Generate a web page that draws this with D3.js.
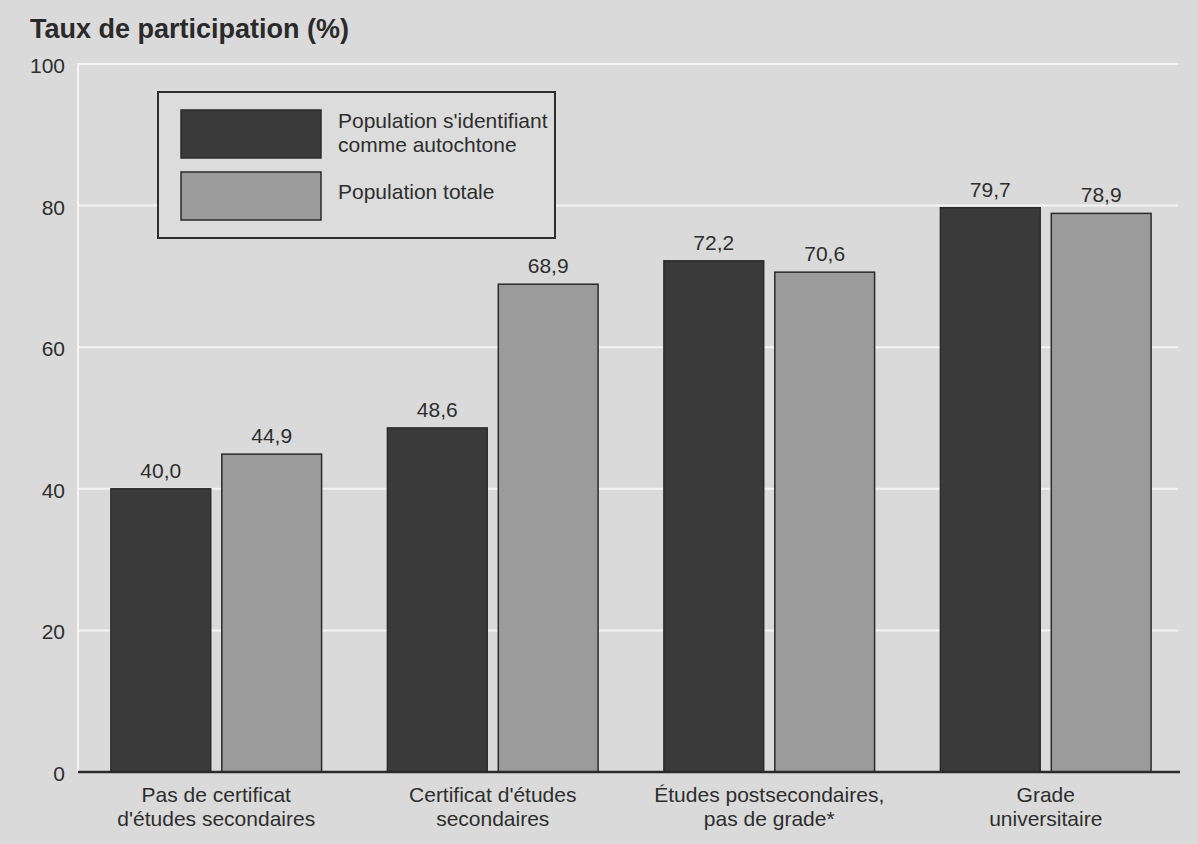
<!DOCTYPE html>
<html lang="fr">
<head>
<meta charset="utf-8">
<script src="https://cdn.jsdelivr.net/npm/d3@7"></script>
<style>
  html, body { margin: 0; padding: 0; background: #d9d9d9; }
  svg { display: block; font-family: "Liberation Sans", Arial, sans-serif; }
</style>
</head>
<body>
<svg id="chart" width="1198" height="844"></svg>
<script>
// Niveaux de scolarité (deux lignes par étiquette)
const categories = [
  ["Pas de certificat", "d'études secondaires"],
  ["Certificat d'études", "secondaires"],
  ["Études postsecondaires,", "pas de grade*"],
  ["Grade", "universitaire"]
];
const seriesNames = ["Population s'identifiant comme autochtone", "Population totale"];
const autochtone = [40.0, 48.6, 72.2, 79.7];
const totale = [44.9, 68.9, 70.6, 78.9];
const yTicks = [0, 20, 40, 60, 80, 100];

(function draw() {
  const colors = ["#3a3a3a", "#9b9b9b"];
  const textColor = "#2e2e2e";
  const fs = 21;
  const fmt = v => d3.format(".1f")(v).replace(".", ",");

  const svg = d3.select("#chart");
  const W = 1198, H = 844;
  svg.append("rect").attr("width", W).attr("height", H).attr("fill", "#dadada");

  const plot = { left: 78, right: 1184, top: 64, bottom: 772 };

  const y = d3.scaleLinear().domain([0, 100]).range([plot.bottom, plot.top]);
  const x0 = d3.scaleBand().domain(d3.range(categories.length))
    .range([plot.left, plot.right]).paddingInner(0.238).paddingOuter(0.119);
  const x1 = d3.scaleBand().domain([0, 1]).range([0, x0.bandwidth()]).paddingInner(0.1);

  // Quadrillage blanc
  const grid = svg.append("g");
  grid.selectAll("line.h").data(yTicks.filter(t => t > 0)).join("line")
    .attr("x1", plot.left).attr("x2", 1178)
    .attr("y1", d => y(d)).attr("y2", d => y(d))
    .attr("stroke", "#f4f4f4").attr("stroke-width", 2);
  grid.append("line").attr("x1", plot.left).attr("x2", plot.left)
    .attr("y1", plot.top - 1).attr("y2", plot.bottom)
    .attr("stroke", "#f4f4f4").attr("stroke-width", 2);

  // Axe vertical (étiquettes seulement)
  const yAxis = d3.axisLeft(y).tickValues(yTicks).tickSize(0).tickPadding(13);
  const gy = svg.append("g").attr("transform", `translate(${plot.left},0)`).call(yAxis);
  gy.select(".domain").remove();
  gy.selectAll("text").attr("font-size", fs).attr("fill", textColor)
    .attr("font-family", "'Liberation Sans', Arial, sans-serif")
    .attr("dy", "0.4em");

  // Titre de l'axe
  svg.append("text").attr("x", 30).attr("y", 38)
    .attr("font-size", 27).attr("font-weight", "bold").attr("fill", "#2a2a2a")
    .text("Taux de participation (%)");

  // Barres
  const rows = categories.map((c, i) => ({ i, values: [autochtone[i], totale[i]] }));
  const groups = svg.append("g").selectAll("g").data(rows).join("g")
    .attr("transform", d => `translate(${x0(d.i)},0)`);

  groups.selectAll("rect").data(d => d.values.map((v, s) => ({ v, s }))).join("rect")
    .attr("x", d => x1(d.s)).attr("width", x1.bandwidth())
    .attr("y", d => y(d.v)).attr("height", d => y(0) - y(d.v))
    .attr("fill", d => colors[d.s]).attr("stroke", "#2b2b2b").attr("stroke-width", 1.5);

  groups.selectAll("text.val").data(d => d.values.map((v, s) => ({ v, s }))).join("text")
    .attr("class", "val")
    .attr("x", d => x1(d.s) + x1.bandwidth() / 2)
    .attr("y", d => y(d.v) - 11)
    .attr("text-anchor", "middle").attr("font-size", fs).attr("fill", textColor)
    .text(d => fmt(d.v));

  // Ligne de base
  svg.append("line").attr("x1", plot.left).attr("x2", 1180)
    .attr("y1", y(0)).attr("y2", y(0))
    .attr("stroke", "#2a2a2a").attr("stroke-width", 2.5);

  // Étiquettes des catégories
  const xl = svg.append("g").selectAll("text").data(categories).join("text")
    .attr("x", (d, i) => x0(i) + x0.bandwidth() / 2)
    .attr("y", 802)
    .attr("text-anchor", "middle").attr("font-size", fs).attr("fill", textColor);
  xl.selectAll("tspan").data(d => d).join("tspan")
    .attr("x", function () { return d3.select(this.parentNode).attr("x"); })
    .attr("dy", (d, k) => k === 0 ? 0 : 24)
    .text(d => d);

  // Légende
  const lg = svg.append("g");
  lg.append("rect").attr("x", 158).attr("y", 92).attr("width", 397).attr("height", 146)
    .attr("fill", "#dcdcdc").attr("stroke", "#2e2e2e").attr("stroke-width", 2);
  const legendRows = [
    { lines: ["Population s'identifiant", "comme autochtone"], y: 110 },
    { lines: ["Population totale"], y: 172 }
  ];
  legendRows.forEach((r, s) => {
    lg.append("rect").attr("x", 181).attr("y", r.y).attr("width", 140).attr("height", 48)
      .attr("fill", colors[s]).attr("stroke", "#2b2b2b").attr("stroke-width", 1.5);
    const t = lg.append("text").attr("x", 338)
      .attr("y", r.lines.length === 2 ? r.y + 18 : r.y + 27)
      .attr("font-size", fs).attr("fill", textColor);
    r.lines.forEach((ln, k) => t.append("tspan").attr("x", 338).attr("dy", k ? 24 : 0).text(ln));
  });
  lg.append("title").text(seriesNames.join(" / "));
})();
</script>
</body>
</html>
